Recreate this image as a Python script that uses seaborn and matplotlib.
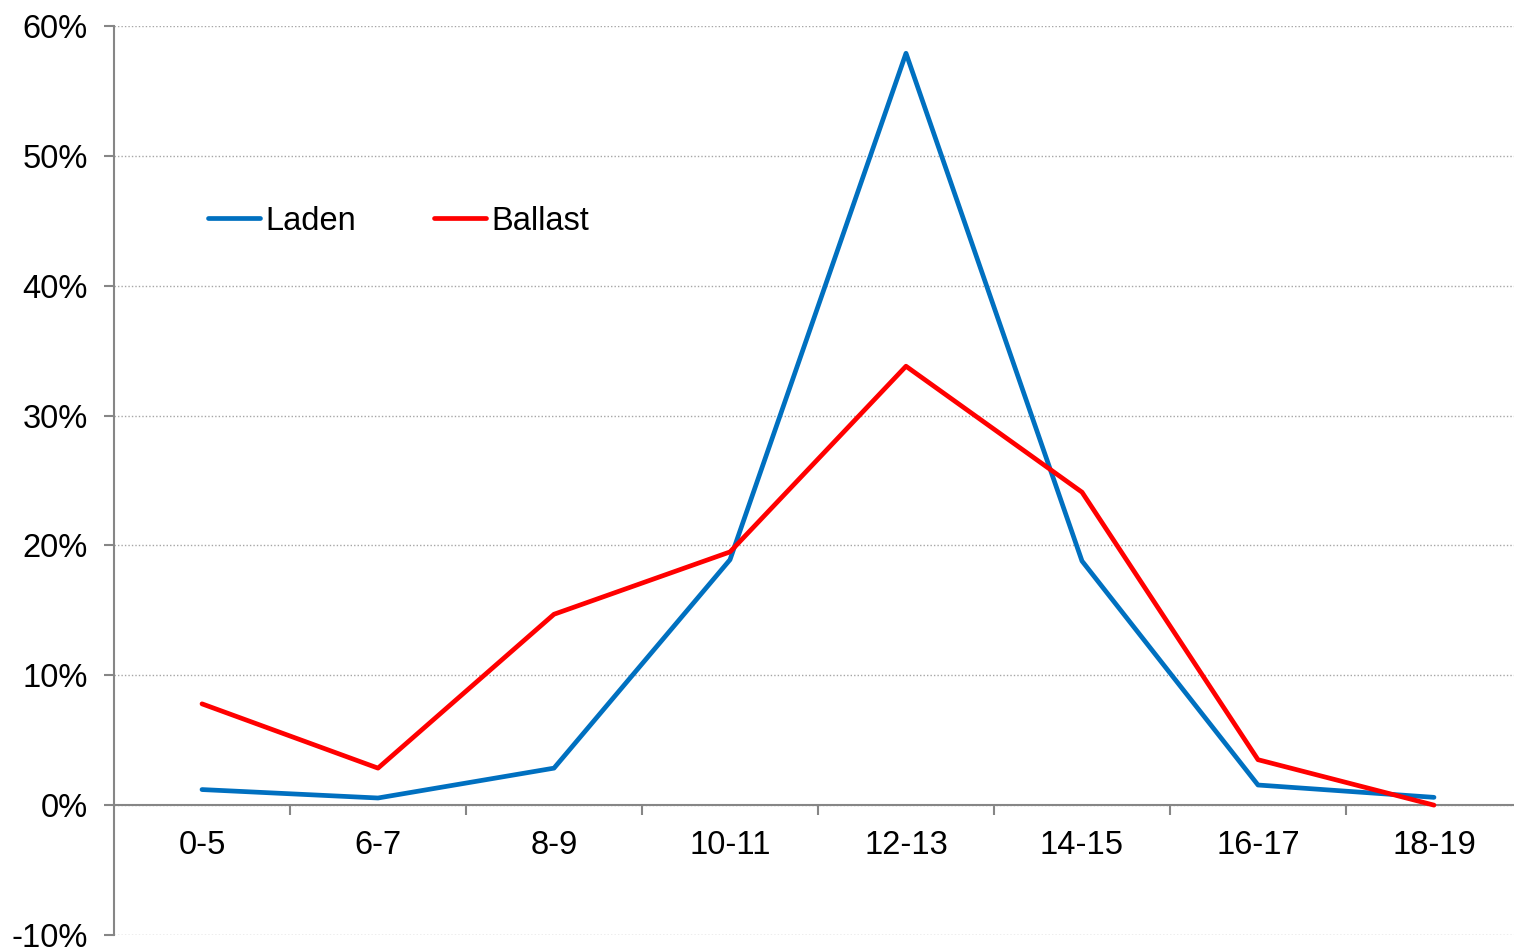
import matplotlib
matplotlib.use("Agg")
import matplotlib.pyplot as plt
from matplotlib.ticker import FixedLocator, PercentFormatter
import pandas as pd
import seaborn as sns

# Speed bands (knots) and share of time spent in each band
speed_bands = ["0-5", "6-7", "8-9", "10-11", "12-13", "14-15", "16-17", "18-19"]
laden = [1.2, 0.55, 2.85, 18.9, 57.9, 18.8, 1.55, 0.6]
ballast = [7.8, 2.85, 14.7, 19.5, 33.8, 24.1, 3.5, 0.0]

series_names = ["Laden", "Ballast"]
series_colors = {"Laden": "#0070C0", "Ballast": "#FF0000"}

df = pd.concat([
    pd.DataFrame({"band": speed_bands, "share": laden, "series": "Laden"}),
    pd.DataFrame({"band": speed_bands, "share": ballast, "series": "Ballast"}),
], ignore_index=True)

sns.set_theme(style="white")
plt.rcParams["font.family"] = ["Liberation Sans", "DejaVu Sans"]
plt.rcParams["axes.unicode_minus"] = False
plt.rcParams["text.color"] = "black"

FS = 23.5

fig = plt.figure(figsize=(15.14, 9.47), dpi=100)
ax = fig.add_axes([114 / 1514, 1 - 935 / 947, (1522 - 114) / 1514, (935 - 26) / 947])

sns.lineplot(data=df, x="band", y="share", hue="series", hue_order=series_names,
             palette=series_colors, sort=False, linewidth=3.4, ax=ax,
             legend=True)

ax.set_xlim(-0.5, len(speed_bands) - 0.5)
ax.set_ylim(-10, 60)
ax.set_xlabel("")
ax.set_ylabel("")

# Y axis: percent ticks with dotted gridlines
ax.yaxis.set_major_locator(FixedLocator(range(-10, 61, 10)))
ax.yaxis.set_major_formatter(PercentFormatter(decimals=0))
ax.grid(axis="y", color="#A6A6A6", linestyle=(0, (1, 1.5)), linewidth=1.0)
ax.grid(axis="x", visible=False)
ax.set_axisbelow(True)

# X axis sits on the zero line, ticks between categories
ax.spines["bottom"].set_position(("data", 0))
for side in ("top", "right"):
    ax.spines[side].set_visible(False)
for side in ("left", "bottom"):
    ax.spines[side].set_color("#868686")
    ax.spines[side].set_linewidth(1.5)
    ax.spines[side].set_zorder(1)

ax.set_xticks(range(len(speed_bands)))
ax.set_xticklabels(speed_bands)
ax.set_xticks([i + 0.5 for i in range(len(speed_bands))], minor=True)
ax.tick_params(axis="x", which="major", length=0, pad=18, labelsize=FS, colors="black")
ax.tick_params(axis="x", which="minor", bottom=True, length=7, width=1.5, color="#868686")
ax.tick_params(axis="y", which="major", left=True, length=7, width=1.5, color="#868686",
               pad=12, labelsize=FS, labelcolor="black")

handles, labels = ax.get_legend_handles_labels()
leg = ax.legend(handles, labels, ncol=2, frameon=False, fontsize=FS,
                loc="center left", bbox_to_anchor=(208 / 1514, 1 - 221 / 947),
                bbox_transform=fig.transFigure, borderpad=0, borderaxespad=0,
                handlelength=1.6, handletextpad=0.15, columnspacing=2.4)
for text in leg.get_texts():
    text.set_color("black")
for line in leg.get_lines():
    line.set_linewidth(3.4)
    line.set_solid_capstyle("round")
for line in ax.lines:
    line.set_solid_capstyle("round")

fig.savefig("out.png", dpi=100)
